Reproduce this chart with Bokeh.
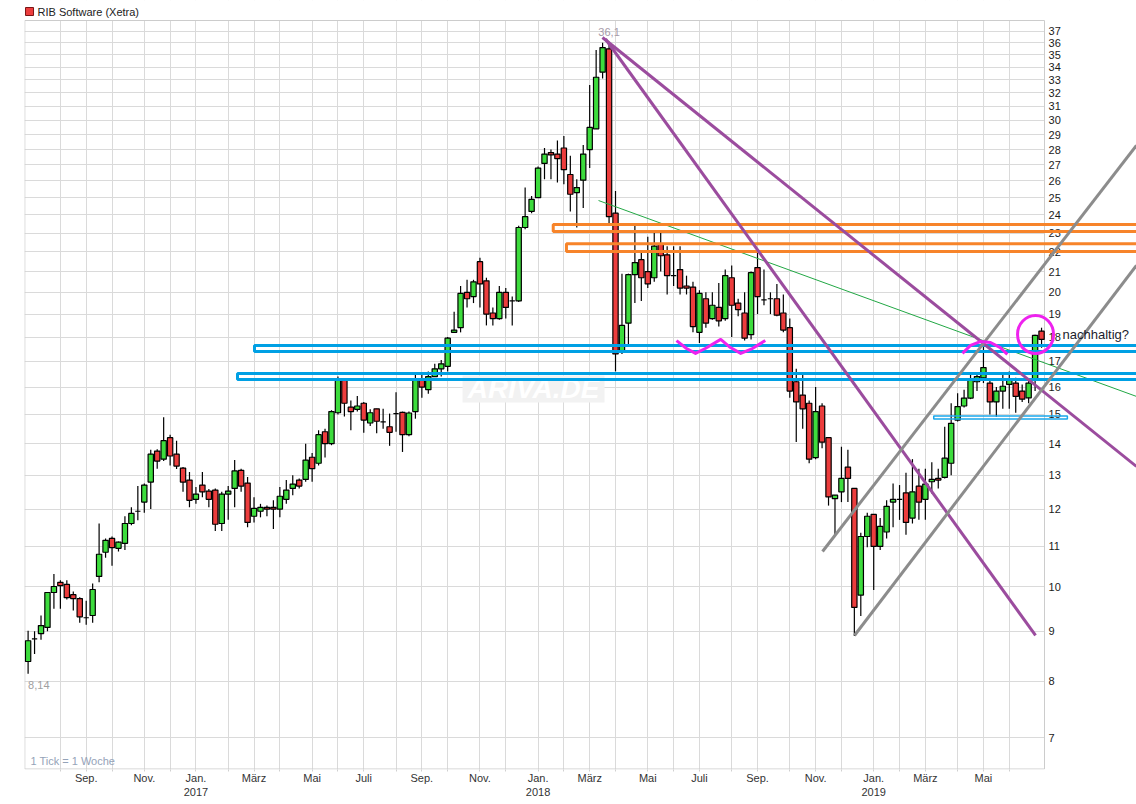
import math
import datetime as dt
from bokeh.plotting import figure
from bokeh.models import FixedTicker, Range1d, ColumnDataSource
from bokeh.core.properties import value
from bokeh.embed import file_html
from bokeh.resources import INLINE

# ---------------- data (weekly candles, RIB Software, Xetra) ----------------
FIRST_WEEK = dt.date(2016, 6, 27)

OPEN = [8.38, 8.84, 8.95, 9.08, 9.86, 10.1, 10.05, 9.81, 9.72, 9.29,
        9.34, 10.24, 10.84, 11.2, 10.94, 11.07, 11.6, 11.94, 12.2, 12.79,
        13.76, 13.5, 14.2, 13.66, 13.22, 12.85, 12.28, 12.7, 12.52, 12.55,
        11.6, 12.43, 12.6, 13.15, 12.76, 11.8, 11.94, 12.05, 12.05, 12.0,
        12.28, 12.6, 12.85, 12.87, 13.56, 13.37, 14.4, 14.0, 15.06, 16.25,
        15.26, 15.18, 15.4, 14.7, 15.2, 14.74, 14.57, 15.03, 15.07, 14.3,
        15.1, 16.3, 15.9, 16.4, 16.7, 16.8, 18.2, 18.4, 20.0, 19.8,
        21.5, 20.55, 19.05, 18.8, 20.0, 19.6, 19.6, 23.3, 24.2, 25.0,
        27.1, 27.8, 27.7, 28.1, 26.4, 25.3, 26.05, 28.0, 29.4, 33.6,
        35.5, 24.1, 17.4, 18.6, 20.85, 21.6, 21.0, 20.7, 22.4, 21.85,
        20.8, 21.1, 20.3, 20.25, 18.2, 19.7, 18.8, 19.3, 18.8, 20.7,
        19.5, 19.05, 18.1, 21.2, 19.65, 19.7, 19.7, 19.05, 18.4, 16.2,
        15.7, 15.4, 13.55, 15.3, 14.2, 12.3, 12.5, 13.25, 12.6, 9.8,
        11.25, 11.85, 10.99, 11.37, 12.2, 12.28, 12.47, 11.75, 12.67, 12.28,
        12.8, 12.9, 12.93, 13.37, 14.8, 15.3, 15.59, 16.2, 16.35, 16.15,
        15.45, 15.85, 16.1, 16.15, 15.85, 15.6, 16.3, 18.25]

HIGH = [9.01, 9.0, 9.34, 9.86, 10.3, 10.15, 10.15, 9.88, 9.75, 9.67,
        10.07, 11.6, 11.2, 11.25, 11.12, 11.8, 12.05, 12.67, 12.75, 13.8,
        13.82, 14.9, 14.3, 14.1, 13.25, 13.1, 12.64, 13.1, 12.58, 12.6,
        12.5, 12.67, 13.47, 13.2, 12.94, 12.34, 12.15, 12.1, 12.25, 12.64,
        12.85, 13.0, 12.9, 14.0, 13.7, 14.45, 14.5, 15.15, 16.4, 16.3,
        15.5, 15.67, 15.45, 15.18, 15.2, 15.2, 15.03, 15.8, 15.1, 15.1,
        16.5, 16.5, 16.6, 16.9, 17.05, 18.0, 19.1, 20.3, 20.6, 20.6,
        21.7, 20.7, 19.3, 20.3, 20.2, 19.8, 23.4, 25.6, 25.1, 26.9,
        28.1, 28.0, 28.6, 28.9, 27.6, 26.1, 28.3, 32.6, 35.4, 36.0,
        36.1, 25.4, 20.9, 20.9, 23.4, 21.95, 22.8, 23.05, 23.05, 22.3,
        22.3, 22.3, 20.8, 20.5, 20.1, 20.0, 20.0, 20.45, 21.1, 21.3,
        19.7, 20.0, 21.0, 21.95, 21.1, 20.0, 20.4, 19.9, 18.8, 16.7,
        16.5, 15.5, 16.0, 15.4, 14.2, 12.4, 13.9, 13.8, 12.6, 11.35,
        11.9, 11.85, 11.75, 12.25, 12.75, 12.7, 13.07, 13.5, 13.2, 13.2,
        13.4, 13.2, 14.57, 15.4, 15.77, 15.9, 16.5, 16.5, 17.75, 16.3,
        16.0, 16.55, 16.6, 16.35, 16.1, 16.3, 18.1, 18.4]

LOW = [8.14, 8.53, 8.82, 9.0, 9.49, 9.49, 9.70, 9.45, 9.18, 9.14,
       9.18, 10.1, 10.7, 10.5, 10.86, 10.9, 11.55, 11.69, 11.9, 12.0,
       13.2, 13.44, 13.3, 13.19, 12.5, 12.05, 12.15, 12.34, 12.05, 11.4,
       11.4, 11.7, 12.05, 12.5, 11.5, 11.63, 11.77, 11.8, 11.45, 11.77,
       12.15, 12.4, 12.6, 12.8, 12.8, 13.3, 13.55, 13.95, 15.0, 14.93,
       14.45, 15.1, 14.37, 14.6, 14.35, 14.5, 13.93, 14.4, 13.73, 14.25,
       14.85, 15.6, 15.75, 16.4, 16.4, 16.6, 18.2, 18.2, 19.3, 19.5,
       19.3, 18.5, 18.5, 18.75, 18.8, 18.5, 19.55, 23.2, 24.1, 25.0,
       26.1, 26.1, 25.9, 25.8, 24.2, 23.3, 24.4, 26.8, 29.4, 33.1,
       23.4, 16.6, 17.3, 17.7, 19.5, 19.6, 20.2, 20.5, 21.0, 19.9,
       20.3, 19.9, 19.9, 18.2, 17.75, 18.4, 18.75, 18.45, 18.7, 18.0,
       18.9, 17.85, 17.9, 19.0, 19.4, 19.0, 18.9, 18.2, 15.6, 14.06,
       14.5, 13.37, 13.5, 13.85, 12.1, 11.3, 12.2, 12.2, 8.9, 9.33,
       10.97, 9.92, 10.9, 11.2, 11.5, 11.7, 11.3, 11.6, 11.7, 11.7,
       12.45, 12.6, 12.9, 13.0, 14.75, 15.25, 15.55, 15.85, 16.15, 15.0,
       14.92, 15.2, 15.2, 15.06, 15.45, 15.4, 15.85, 17.55]

CLOSE = [8.80, 8.84, 9.12, 9.86, 10.0, 10.02, 9.74, 9.72, 9.31, 9.29,
         9.93, 10.79, 11.15, 10.96, 11.1, 11.6, 11.88, 11.94, 12.7, 13.66,
         13.44, 14.1, 13.6, 13.28, 12.79, 12.25, 12.43, 12.5, 12.28, 11.58,
         12.43, 12.52, 13.13, 12.67, 11.63, 12.02, 12.05, 12.0, 12.0, 12.37,
         12.55, 12.73, 12.67, 13.47, 13.2, 14.3, 14.0, 15.1, 16.3, 15.4,
         15.1, 15.3, 14.8, 15.06, 14.76, 14.74, 14.38, 15.03, 14.3, 15.05,
         16.3, 16.0, 16.4, 16.7, 16.9, 17.95, 18.3, 19.95, 19.7, 20.5,
         20.4, 19.0, 18.8, 20.0, 19.3, 19.6, 23.3, 23.9, 24.9, 26.8,
         27.7, 27.65, 27.4, 26.7, 25.2, 25.6, 27.7, 29.5, 33.2, 35.6,
         23.9, 17.3, 18.5, 20.85, 21.45, 20.7, 20.4, 22.3, 21.8, 20.8,
         20.8, 20.2, 20.2, 18.45, 19.95, 18.6, 19.4, 18.7, 20.8, 19.4,
         19.2, 17.95, 20.95, 19.8, 19.65, 19.7, 18.95, 18.3, 15.85, 15.45,
         15.2, 13.5, 15.1, 14.05, 12.35, 12.4, 12.9, 12.9, 9.52, 11.25,
         11.8, 10.99, 11.52, 12.08, 12.28, 12.28, 11.63, 12.5, 12.2, 12.73,
         12.87, 12.85, 13.53, 14.69, 15.28, 15.59, 16.25, 16.4, 16.75, 15.45,
         15.85, 16.03, 16.3, 15.65, 15.55, 16.15, 18.07, 17.9]

Y_TICKS = list(range(7, 38))
MONTHS_DE = ["Jan.", "Feb.", "März", "Apr.", "Mai", "Juni",
             "Juli", "Aug.", "Sep.", "Okt.", "Nov.", "Dez."]
LABELED_MONTHS = [1, 3, 5, 7, 9, 11]
TITLE = "RIB Software (Xetra)"
TICK_NOTE = "1 Tick = 1 Woche"
NOTE = "nachhaltig?"
WATERMARK = "ARIVA.DE"

# drawn analysis: horizontal zones (week where they start, value band)
BLUE_START = [35.07, 32.44]
BLUE_LOW = [17.40, 16.29]
BLUE_HIGH = [17.65, 16.52]
THIN_START, THIN_END, THIN_LOW, THIN_HIGH = 140.3, 161.0, 14.84, 14.94
ORANGE_START = [81.35, 83.4]
ORANGE_LOW = [23.08, 22.02]
ORANGE_HIGH = [23.47, 22.42]
# trend lines: (week0, value0) -> (week1, value1)
PURPLE_X0 = [88.98, 89.45]
PURPLE_Y0 = [36.46, 36.33]
PURPLE_X1 = [171.7, 156.07]
PURPLE_Y1 = [13.27, 8.91]
GRAY_X0 = [123.07, 128.02]
GRAY_Y0 = [10.86, 8.91]
GRAY_X1 = [171.7, 171.7]
GRAY_Y1 = [28.27, 21.31]
GREEN_X = [88.37, 171.7]
GREEN_Y = [24.83, 15.65]
WAVE_X = [100.45, 102.0, 103.4, 104.9, 107.3, 108.8, 110.4, 112.2, 114.2]
WAVE_Y = [17.85, 17.52, 17.32, 17.52, 17.90, 17.56, 17.32, 17.52, 17.85]
ARCH_X = [144.75, 146.0, 147.5, 149.1, 150.6, 151.7]
ARCH_Y = [17.32, 17.65, 17.81, 17.77, 17.56, 17.28]
CIRCLE_X, CIRCLE_Y = 156.07, 18.11

# ---------------- styling / geometry ----------------
FONT = "Liberation Sans"
GREEN = "#3ddc3d"
RED = "#ec3d3d"
GRID = "#dadada"
BLUE = "#00a0e4"
ORANGE = "#f7842a"
PURPLE = "#9b4c9e"
GRAYL = "#8c8c8c"
MAGENTA = "#ee22ee"

W, H = 1136, 804
X_LEFT, X_RIGHT = -0.558, 171.71
BOX_L, BOX_R = -0.51, 157.46


def val(py):  # value at a pixel row of the reference layout
    return 10.0 * math.exp((586.0 - py) / 424.4)


FRAME_BOTTOM_PX = 769.0
Y_TOP = val(0.0)
Y_BOTTOM = val(FRAME_BOTTOM_PX)
BOX_TOP = val(20.0)
BOX_BOTTOM = val(FRAME_BOTTOM_PX - 0.5)

n = len(CLOSE)
idx = list(range(n))

# month grid (week that contains the 1st of each month)
month_ticks, month_labels = [], {}
yy, mm = 2016, 8
while (yy, mm) <= (2019, 6):
    k = (dt.date(yy, mm, 1) - FIRST_WEEK).days // 7
    month_ticks.append(k)
    lab = ""
    if mm in LABELED_MONTHS:
        lab = MONTHS_DE[mm - 1] + ("\n%d" % yy if mm == 1 else "")
    month_labels[k] = lab
    mm += 1
    if mm > 12:
        mm, yy = 1, yy + 1

p = figure(width=W, height=H, output_backend="svg", toolbar_location=None,
           x_range=Range1d(X_LEFT, X_RIGHT), y_range=Range1d(Y_BOTTOM, Y_TOP),
           y_axis_type="log", y_axis_location=None,
           min_border_left=24, min_border_right=0, min_border_top=0,
           min_border_bottom=H - int(FRAME_BOTTOM_PX))
p.outline_line_color = None
p.background_fill_color = "white"
p.border_fill_color = "white"

p.ygrid.ticker = FixedTicker(ticks=Y_TICKS)
p.xgrid.ticker = FixedTicker(ticks=month_ticks)
p.grid.grid_line_color = GRID
p.grid.grid_line_width = 1

ax = p.xaxis[0]
ax.ticker = FixedTicker(ticks=month_ticks)
ax.major_label_overrides = month_labels
ax.axis_line_color = None
ax.major_tick_line_color = "#d0d0d0"
ax.major_tick_out = 2
ax.major_tick_in = 0
ax.minor_tick_line_color = None
ax.major_label_standoff = 0
ax.major_label_text_font = FONT
ax.major_label_text_font_size = "11px"
ax.major_label_text_color = "#333333"
ax.major_label_text_line_height = 1.2

# white covers outside the chart box (above it and right of the price axis)
p.quad(left=[X_LEFT - 1, BOX_R], right=[X_RIGHT + 1, X_RIGHT + 1],
       bottom=[BOX_TOP, Y_BOTTOM * 0.9], top=[Y_TOP * 1.1, Y_TOP * 1.1],
       fill_color="white", line_color=None)

# chart box
p.line(x=[BOX_R, BOX_L, BOX_L, BOX_R, BOX_R], y=[BOX_TOP, BOX_TOP, BOX_BOTTOM, BOX_BOTTOM, BOX_TOP],
       line_color="#cccccc", line_width=1)

# watermark
p.quad(left=[67.3], right=[89.3], bottom=[15.43], top=[16.44], fill_color="#f2f2f2", line_color=None)
p.text(x=[78.3], y=[15.93], text=[WATERMARK], text_font=value(FONT), text_font_size="28px",
       text_font_style="bold italic", text_color="white", text_align="center", text_baseline="middle")

# price labels on the right of the box
p.text(x=[BOX_R] * len(Y_TICKS), y=Y_TICKS, text=[str(t) for t in Y_TICKS], x_offset=4,
       text_font=value(FONT), text_font_size="11px", text_color="#1a1a1a",
       text_align="left", text_baseline="middle")

# candles
src = ColumnDataSource(dict(
    x=idx, o=OPEN, h=HIGH, l=LOW, c=CLOSE,
    top=[max(a, b) for a, b in zip(OPEN, CLOSE)],
    bot=[min(a, b) for a, b in zip(OPEN, CLOSE)],
    col=[GREEN if c >= o else RED for o, c in zip(OPEN, CLOSE)],
))
p.segment(x0="x", y0="l", x1="x", y1="h", source=src, line_color="black", line_width=1.2)
p.vbar(x="x", width=0.82, top="top", bottom="bot", source=src,
       fill_color="col", line_color="black", line_width=1.2)

# analysis overlays
p.line(x=GREEN_X, y=GREEN_Y, line_color="#22a845", line_width=1)
p.quad(left=ORANGE_START, right=[X_RIGHT + 5] * 2, bottom=ORANGE_LOW, top=ORANGE_HIGH,
       fill_color=None, line_color=ORANGE, line_width=3)
p.quad(left=BLUE_START, right=[X_RIGHT + 5] * 2, bottom=BLUE_LOW, top=BLUE_HIGH,
       fill_color=None, line_color=BLUE, line_width=3)
p.quad(left=[THIN_START], right=[THIN_END], bottom=[THIN_LOW], top=[THIN_HIGH],
       fill_color=None, line_color="#1aa6ea", line_width=1.5)
p.segment(x0=PURPLE_X0, y0=PURPLE_Y0, x1=PURPLE_X1, y1=PURPLE_Y1, line_color=PURPLE, line_width=3)
p.segment(x0=GRAY_X0, y0=GRAY_Y0, x1=GRAY_X1, y1=GRAY_Y1, line_color=GRAYL, line_width=3)
p.line(x=WAVE_X, y=WAVE_Y, line_color=MAGENTA, line_width=3, line_join="round")
p.line(x=ARCH_X, y=ARCH_Y, line_color=MAGENTA, line_width=3, line_join="round")
p.ellipse(x=[CIRCLE_X], y=[CIRCLE_Y], width=36, height=38, width_units="screen", height_units="screen",
          fill_color=None, line_color=MAGENTA, line_width=3)

# texts
p.text(x=[160.25], y=[CIRCLE_Y], text=[NOTE], text_font=value(FONT), text_font_size="13px",
       text_color="#1c1c2c", text_align="left", text_baseline="middle")

i_max = max(idx, key=lambda i: HIGH[i])
i_min = min(idx, key=lambda i: LOW[i])
p.text(x=[i_max], y=[HIGH[i_max]], text=[("%.1f" % HIGH[i_max]).replace(".", ",")], y_offset=-6,
       text_font=value(FONT), text_font_size="11px", text_color="#a59aa8",
       text_align="center", text_baseline="bottom")
p.text(x=[i_min], y=[LOW[i_min]], text=[("%.2f" % LOW[i_min]).replace(".", ",")], y_offset=7,
       text_font=value(FONT), text_font_size="11px", text_color="#a0a0a0",
       text_align="left", text_baseline="top")
p.text(x=[0.37], y=[val(760)], text=[TICK_NOTE], text_font=value(FONT), text_font_size="11px",
       text_color="#95a3b8", text_align="left", text_baseline="middle")

# title with colour key
p.scatter(x=[0.22], y=[val(11)], marker="square", size=8, fill_color=RED, line_color="#7a1515", line_width=1)
p.text(x=[1.46], y=[val(11)], text=[TITLE], text_font=value(FONT), text_font_size="11px",
       text_color="#222222", text_align="left", text_baseline="middle")

open("out.html", "w").write(file_html(p, INLINE))
